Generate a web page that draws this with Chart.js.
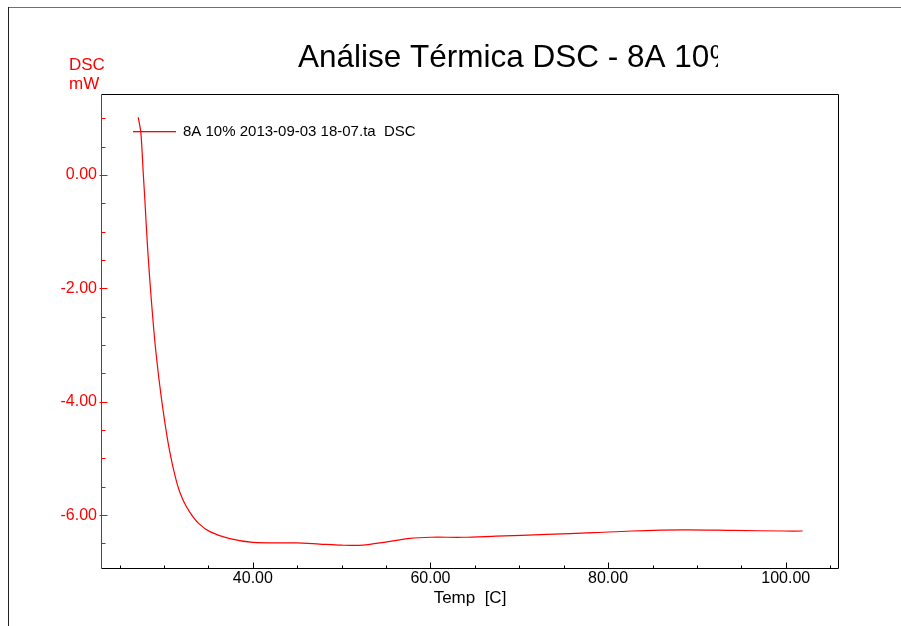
<!DOCTYPE html>
<html>
<head>
<meta charset="utf-8">
<title>Análise Térmica DSC - 8A 10%</title>
<script src="https://cdn.jsdelivr.net/npm/chart.js@4/dist/chart.umd.min.js"></script>
<style>
  html, body { margin: 0; padding: 0; background: #fff; }
  #wrap { width: 901px; height: 626px; }
</style>
</head>
<body>
<div id="wrap"><canvas id="chart" width="901" height="626"></canvas></div>
<script>
// data
const titleText = 'Análise Térmica DSC - 8A 10%';
const seriesLabel = '8A 10% 2013-09-03 18-07.ta  DSC';
const yUnitLines = ['DSC', 'mW'];
const xTitle = 'Temp  [C]';

const temps = [27.09, 27.39, 27.67, 27.84, 28.16, 28.57, 29.06, 29.73, 30.60, 31.44,
  32.12, 32.91, 33.92, 35.16, 37.30, 40.0, 44.9, 47.5, 50.0, 52.4, 55.1, 57.7, 60.0, 63.7, 67.4,
  73.1, 78.3, 82.6, 88.5, 94.1, 99.7, 101.9];
const dsc = [1.02, 0.74, 0.0, -0.44, -1.32, -2.21, -3.09, -3.97, -4.85, -5.43,
  -5.73, -5.95, -6.15, -6.29, -6.41, -6.48, -6.49, -6.51, -6.53, -6.53, -6.47, -6.41, -6.39, -6.39, -6.37,
  -6.34, -6.31, -6.28, -6.26, -6.27, -6.28, -6.28];

const xTicks = [25, 30, 35, 40, 45, 50, 55, 60, 65, 70, 75, 80, 85, 90, 95, 100, 105];
const yTicks = [-6.5, -6, -5.5, -5, -4.5, -4, -3.5, -3, -2.5, -2, -1.5, -1, -0.5, 0, 0.5, 1];

const RED = '#ff0000';
const FONT = '"Liberation Sans", Arial, sans-serif';

const points = temps.map((t, i) => ({ x: t, y: dsc[i] }));

// draws the frame, the inner tick marks, title, unit label and legend
const decor = {
    id: 'decor',
    beforeDraw(chart) {
        const ctx = chart.ctx;
        ctx.save();
        ctx.fillStyle = '#fff';
        ctx.fillRect(0, 0, chart.width, chart.height);
        // outer page border
        ctx.fillStyle = '#707070';
        ctx.fillRect(8, 7, chart.width - 8, 1);
        ctx.fillStyle = '#222';
        ctx.fillRect(8, 7, 1, chart.height - 7);
        ctx.restore();
    },
    afterDraw(chart) {
        const { ctx, chartArea: a, scales: { x, y } } = chart;
        const L = Math.round(a.left) + 0.5;
        const R = Math.round(a.right) - 0.5;
        const T = Math.round(a.top) + 0.5;
        const B = Math.round(a.bottom) - 0.5;
        ctx.save();
        ctx.lineWidth = 1;

        // plot box
        ctx.strokeStyle = '#000';
        ctx.beginPath();
        ctx.moveTo(L, T); ctx.lineTo(R, T); ctx.lineTo(R, B); ctx.lineTo(L, B);
        ctx.stroke();
        ctx.strokeStyle = RED;
        ctx.beginPath();
        ctx.moveTo(L, T); ctx.lineTo(L, B);
        ctx.stroke();

        // y tick marks (red, pointing inward)
        ctx.beginPath();
        y.ticks.forEach(t => {
            const py = Math.round(y.getPixelForValue(t.value)) + 0.5;
            const major = t.value % 2 === 0;
            ctx.moveTo(major ? L - 2 : L, py);
            ctx.lineTo(major ? L + 6 : L + 4, py);
        });
        ctx.stroke();

        // x tick marks (black, pointing inward)
        ctx.strokeStyle = '#000';
        ctx.beginPath();
        x.ticks.forEach(t => {
            const px = Math.round(x.getPixelForValue(t.value)) + 0.5;
            const major = t.value % 20 === 0;
            ctx.moveTo(px, B);
            ctx.lineTo(px, major ? B - 6 : B - 3);
        });
        ctx.stroke();

        // title, clipped on the right like the original
        ctx.save();
        ctx.beginPath();
        ctx.rect(0, 0, 718, 90);
        ctx.clip();
        ctx.fillStyle = '#000';
        ctx.font = '31.5px ' + FONT;
        ctx.textBaseline = 'alphabetic';
        ctx.textAlign = 'left';
        ctx.fillText(titleText, 298, 67);
        ctx.restore();

        // unit label
        ctx.fillStyle = RED;
        ctx.font = '17px ' + FONT;
        ctx.textBaseline = 'alphabetic';
        ctx.textAlign = 'left';
        ctx.fillText(yUnitLines[0], 69, 70);
        ctx.fillText(yUnitLines[1], 69, 89);

        // legend sample line + label
        ctx.fillStyle = RED;
        ctx.fillRect(133, 131, 43, 1.3);
        ctx.fillStyle = '#000';
        ctx.font = '15px ' + FONT;
        ctx.textBaseline = 'middle';
        ctx.fillText(chart.data.datasets[0].label, 183, 132);

        ctx.restore();
    }
};

const ctx = document.getElementById('chart').getContext('2d');

new Chart(ctx, {
    type: 'line',
    data: {
        datasets: [{
            label: seriesLabel,
            data: points,
            borderColor: RED,
            borderWidth: 1.2,
            pointRadius: 0,
            fill: false,
            tension: 0.3,
        }],
    },
    options: {
        responsive: false,
        animation: false,
        layout: { autoPadding: false, padding: { left: 0, top: 94, right: 62, bottom: 0 } },
        plugins: {
            legend: { display: false },
            tooltip: { enabled: false },
            title: { display: false },
        },
        scales: {
            x: {
                type: 'linear',
                min: 22.9,
                max: 106,
                grid: { display: false, drawTicks: false },
                border: { display: false },
                afterBuildTicks: s => { s.ticks = xTicks.map(v => ({ value: v })); },
                afterFit: s => { s.height = 57; },
                ticks: {
                    autoSkip: false,
                    maxRotation: 0,
                    padding: 0,
                    color: '#000',
                    font: { family: FONT, size: 16 },
                    callback: v => (v % 20 === 0 ? v.toFixed(2) : ''),
                },
                title: {
                    display: true,
                    text: xTitle,
                    color: '#000',
                    font: { family: FONT, size: 17 },
                    padding: { top: 0, bottom: 17 },
                },
            },
            y: {
                type: 'linear',
                min: -6.95,
                max: 1.43,
                grid: { display: false, drawTicks: false },
                border: { display: false },
                afterBuildTicks: s => { s.ticks = yTicks.map(v => ({ value: v })); },
                afterFit: s => { s.width = 101; },
                ticks: {
                    autoSkip: false,
                    padding: 4,
                    color: RED,
                    font: { family: FONT, size: 16 },
                    callback: v => (v % 2 === 0 ? v.toFixed(2) : ''),
                },
            },
        },
    },
    plugins: [decor],
});
</script>
</body>
</html>
